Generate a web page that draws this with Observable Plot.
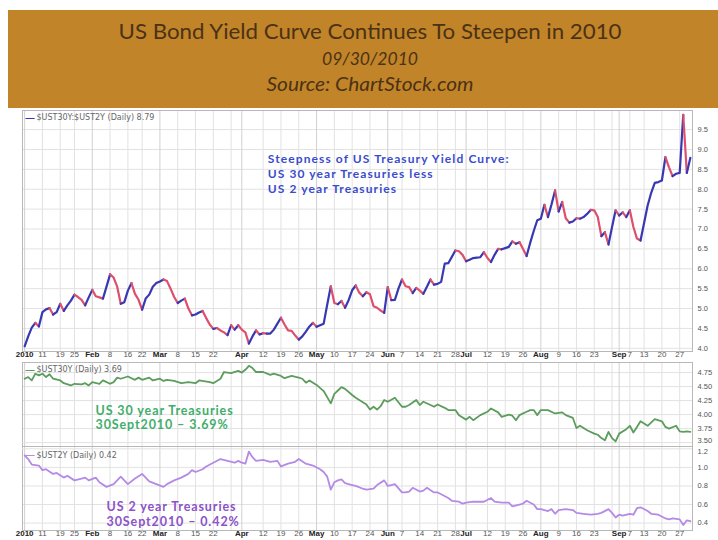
<!DOCTYPE html>
<html><head><meta charset="utf-8">
<script src="https://cdn.jsdelivr.net/npm/d3@7"></script>
<script src="https://cdn.jsdelivr.net/npm/@observablehq/plot@0.6"></script>
<style>
body{margin:0;background:#fff;}
#root{position:relative;width:718px;height:540px;overflow:hidden;background:#fff;}
#root > svg, #root > div{position:absolute;left:0;}
g[fill="#3a4ccc"] text{letter-spacing:1.1px;}
g[fill="#3fae6a"] text, g[fill="#8c52c8"] text{letter-spacing:0.9px;}
</style></head>
<body><div id="root"></div>
<script>
// ---------- text ----------
const titleText = "US Bond Yield Curve Continues To Steepen in 2010";
const dateText = "09/30/2010";
const sourceText = "Source: ChartStock.com";
const spreadLegend = "$UST30Y:$UST2Y (Daily) 8.79";
const long30Legend = "$UST30Y (Daily) 3.69";
const short2Legend = "$UST2Y (Daily) 0.42";
const spreadNote = "Steepness of US Treasury Yield Curve:\nUS 30 year Treasuries less\nUS 2 year Treasuries";
const long30Note = "US 30 year Treasuries\n30Sept2010 \u2013 3.69%";
const short2Note = "US 2 year Treasuries\n30Sept2010 \u2013 0.42%";

// ---------- x axis (trading sessions, 0 = 4 Jan 2010, 187 = 30 Sep 2010) ----------
const monthTickSessions = [0, 19, 38, 61, 82, 102, 124, 145, 167];
const monthTickLabels = ["2010", "Feb", "Mar", "Apr", "May", "Jun", "Jul", "Aug", "Sep"];
const dayTickSessions = [5, 10, 14, 24, 29, 33, 43, 48, 53, 67, 72, 77, 87, 92, 97, 106, 111, 116, 121, 130, 135, 140, 150, 155, 160, 170, 174, 179, 184];
const dayTickLabels = ["11", "19", "25", "8", "16", "22", "8", "15", "22", "12", "19", "26", "10", "17", "24", "7", "14", "21", "28", "12", "19", "26", "9", "16", "23", "7", "13", "20", "27"];
const extraGridSessions = [58, 165];

// ---------- y ticks ----------
const spreadTicks = [4.0, 4.5, 5.0, 5.5, 6.0, 6.5, 7.0, 7.5, 8.0, 8.5, 9.0, 9.5];
const long30Ticks = [3.50, 3.75, 4.00, 4.25, 4.50, 4.75];
const short2Ticks = [0.4, 0.6, 0.8, 1.0, 1.2];

// ---------- series: $UST30Y:$UST2Y ----------
const spreadSession = [0,1,2,3,4,5,6,7,8,9,10,11,12,13,14,15,16,17,18,19,20,21,22,23,24,25,26,27,28,29,30,31,32,33,34,35,36,37,38,39,40,41,42,43,44,45,46,47,48,49,50,51,52,53,54,55,56,57,58,59,60,61,62,63,64,65,66,67,68,69,70,71,72,73,74,75,76,77,78,79,80,81,82,83,84,85,86,87,88,89,90,91,92,93,94,95,96,97,98,99,100,101,102,103,104,105,106,107,108,109,110,111,112,113,114,115,116,117,118,119,120,121,122,123,124,125,126,127,128,129,130,131,132,133,134,135,136,137,138,139,140,141,142,143,144,145,146,147,148,149,150,151,152,153,154,155,156,157,158,159,160,161,162,163,164,165,166,167,168,169,170,171,172,173,174,175,176,177,178,179,180,181,182,183,184,185,186,187];
const spreadValue = [4.05,4.30,4.52,4.64,4.55,4.91,4.98,5.01,4.85,4.91,5.12,4.94,5.08,5.20,5.35,5.29,5.22,5.08,5.28,5.47,5.31,5.28,5.25,5.55,5.86,5.78,5.55,5.12,5.16,5.45,5.64,5.37,5.22,4.97,5.25,5.35,5.55,5.64,5.68,5.73,5.69,5.50,5.29,5.14,5.20,5.25,5.00,4.83,4.85,4.90,4.94,4.76,4.60,4.49,4.51,4.45,4.40,4.33,4.58,4.47,4.58,4.47,4.40,4.12,4.30,4.45,4.35,4.38,4.37,4.37,4.47,4.62,4.77,4.60,4.45,4.44,4.32,4.22,4.30,4.42,4.55,4.64,4.54,4.58,4.62,5.10,5.56,5.14,5.11,5.19,5.02,5.21,5.46,5.58,5.40,5.31,5.41,5.36,5.06,5.02,4.95,4.89,5.54,5.21,5.22,5.50,5.73,5.56,5.54,5.39,5.52,5.45,5.37,5.55,5.73,5.60,5.62,5.67,6.13,6.14,6.30,6.46,6.44,6.35,6.19,6.23,6.27,6.28,6.29,6.42,6.27,6.17,6.35,6.50,6.49,6.52,6.55,6.69,6.63,6.67,6.50,6.32,6.65,6.95,7.22,7.26,7.61,7.30,7.62,7.97,7.44,7.68,7.27,7.16,7.19,7.27,7.26,7.30,7.38,7.48,7.47,7.30,6.82,6.92,6.61,7.05,7.47,7.34,7.42,7.30,7.47,7.05,6.76,6.71,7.15,7.59,7.91,8.16,8.18,8.22,8.81,8.55,8.33,8.39,8.41,9.87,8.41,8.79];

// ---------- series: $UST30Y ----------
const long30Session = [0,1,2,3,4,5,6,7,8,10,11,13,14,16,17,18,19,21,22,24,25,26,27,29,31,32,33,35,36,38,39,40,42,44,46,48,49,52,53,55,56,58,60,61,62,63,64,65,67,69,70,72,73,75,77,78,79,80,82,84,86,87,88,89,90,92,93,94,96,97,98,99,100,101,102,104,106,107,108,110,111,112,114,115,116,118,119,121,122,124,125,126,128,130,131,133,134,136,137,138,139,141,142,143,144,145,147,149,151,152,154,155,156,158,160,161,162,163,164,165,166,167,169,170,171,172,173,174,175,177,179,180,181,183,184,185,186,187];
const long30Value = [4.64,4.67,4.61,4.73,4.70,4.73,4.67,4.72,4.64,4.61,4.56,4.52,4.55,4.54,4.56,4.52,4.58,4.55,4.61,4.55,4.58,4.66,4.64,4.68,4.62,4.66,4.62,4.66,4.61,4.64,4.60,4.62,4.60,4.56,4.58,4.56,4.61,4.58,4.56,4.64,4.76,4.74,4.78,4.75,4.80,4.87,4.83,4.76,4.76,4.71,4.73,4.69,4.65,4.69,4.66,4.64,4.57,4.61,4.53,4.42,4.20,4.37,4.43,4.49,4.46,4.35,4.30,4.26,4.18,4.09,4.14,4.09,4.15,4.26,4.23,4.30,4.14,4.14,4.17,4.26,4.17,4.23,4.17,4.14,4.18,4.12,4.08,4.08,3.99,3.91,3.96,3.90,3.99,4.05,4.11,4.04,3.96,4.00,3.98,3.90,3.99,4.05,4.08,4.08,3.99,4.08,4.08,4.02,4.04,3.99,3.94,3.76,3.80,3.72,3.66,3.64,3.58,3.54,3.69,3.58,3.52,3.66,3.74,3.80,3.68,3.78,3.88,3.84,3.80,3.92,3.88,3.78,3.75,3.80,3.70,3.69,3.70,3.69];

// ---------- series: $UST2Y ----------
const short2Session = [0,1,2,4,5,6,8,9,11,12,14,16,17,18,20,21,23,25,26,27,28,29,31,33,34,35,37,39,40,42,44,46,47,48,50,51,53,55,57,59,60,61,62,63,64,65,67,69,71,72,74,76,77,79,81,83,84,85,86,87,88,89,90,92,93,95,96,98,99,101,102,103,104,106,107,108,109,111,112,113,115,116,117,119,120,122,123,124,126,128,129,131,132,134,136,137,139,140,141,143,144,145,147,148,149,150,152,154,155,157,159,161,162,164,165,166,167,168,170,171,172,173,175,176,178,180,181,182,184,185,186,187];
const short2Value = [1.13,1.09,1.03,1.02,0.97,0.98,0.93,0.94,0.89,0.91,0.86,0.88,0.89,0.86,0.89,0.84,0.79,0.82,0.86,0.90,0.86,0.82,0.88,0.93,0.89,0.85,0.82,0.79,0.82,0.86,0.89,0.93,0.97,0.95,0.98,1.01,1.05,1.09,1.07,1.05,1.07,1.05,1.04,1.17,1.11,1.07,1.08,1.06,1.07,1.01,1.04,1.06,1.09,1.04,1.02,0.98,0.95,0.90,0.76,0.84,0.86,0.87,0.83,0.81,0.80,0.77,0.76,0.77,0.81,0.86,0.80,0.81,0.82,0.73,0.73,0.74,0.78,0.74,0.75,0.78,0.73,0.73,0.71,0.67,0.64,0.63,0.61,0.62,0.63,0.63,0.63,0.67,0.63,0.62,0.62,0.58,0.60,0.61,0.64,0.60,0.55,0.55,0.53,0.55,0.50,0.54,0.55,0.54,0.51,0.50,0.49,0.50,0.51,0.55,0.51,0.46,0.49,0.48,0.50,0.49,0.56,0.57,0.53,0.50,0.49,0.45,0.44,0.45,0.44,0.38,0.43,0.42];

// ---------- build ----------
const root = document.getElementById("root");
const UI = "'Liberation Sans', Arial, sans-serif";
const NOTE = "Lato, 'Open Sans', sans-serif";
const BLUE = "#3838b2", RED = "#dc506e", GREEN = "#5c9c5c", PURPLE = "#b58ae6";
const GRID = "#e2e2e2", MGRID = "#d0d0d0", FRAME = "#b8b8b8";

// header
const NS = "http://www.w3.org/2000/svg";
const head = document.createElementNS(NS, "svg");
head.setAttribute("width", 718); head.setAttribute("height", 108);
head.style.top = "0px";
head.innerHTML = `<rect x="8" y="10" width="710" height="98" fill="#c28428"/>`;
function headText(str, y, size, italic, len) {
  const t = document.createElementNS(NS, "text");
  t.setAttribute("x", 370); t.setAttribute("y", y);
  t.setAttribute("text-anchor", "middle");
  t.setAttribute("font-family", "Lato, 'Open Sans', sans-serif");
  t.setAttribute("font-size", size);
  if (italic) t.setAttribute("font-style", "italic");
  t.setAttribute("fill", "#4a3216");
  t.setAttribute("textLength", len);
  t.setAttribute("lengthAdjust", "spacingAndGlyphs");
  t.textContent = str;
  head.appendChild(t);
}
headText(titleText, 39, 22, false, 503);
headText(dateText, 65, 18, true, 96);
headText(sourceText, 91, 19, true, 207);
root.appendChild(head);

const monthTicks = monthTickSessions.map((s, i) => ({s, label: monthTickLabels[i]}));
const dayTicks = dayTickSessions.map((s, i) => ({s, label: dayTickLabels[i]}));
const gridSessions = [...dayTickSessions, ...extraGridSessions];

const spread = spreadSession.map((s, i) => ({
  s, v: spreadValue[i],
  dir: (i < spreadValue.length - 1 && spreadValue[i + 1] < spreadValue[i]) ? "down" : "up"
}));
const long30 = long30Session.map((s, i) => ({s, v: long30Value[i]}));
const short2 = short2Session.map((s, i) => ({s, v: short2Value[i]}));

function xLabels() {
  return [
    Plot.text(dayTicks, {x: "s", text: "label", frameAnchor: "bottom", dy: 5.5, fontSize: 8, fill: "#555", fontFamily: UI}),
    Plot.text(monthTicks, {x: "s", text: "label", frameAnchor: "bottom", dy: 5.5, fontSize: 8, fontWeight: "bold", fill: "#222", fontFamily: UI})
  ];
}
function common(ticks, fmt) {
  return [
    Plot.ruleY(ticks, {stroke: GRID}),
    Plot.ruleX(gridSessions, {stroke: GRID}),
    Plot.ruleX(monthTickSessions, {stroke: MGRID}),
    Plot.frame({stroke: FRAME}),
    Plot.text(ticks, {y: d => d, text: d => fmt(d), frameAnchor: "right", textAnchor: "start", dx: 5, fontSize: 7.5, fill: "#555", fontFamily: UI}),
  ];
}
function legend(label, color, dy) {
  return [
    Plot.text([label], {text: d => d, frameAnchor: "top-left", textAnchor: "start", dx: 14, dy, fontSize: 8, fill: "#666", fontFamily: "'DejaVu Sans', sans-serif"}),
    Plot.text(["\u2014"], {text: d => d, frameAnchor: "top-left", textAnchor: "start", dx: 3, dy, fontSize: 9, fontWeight: "bold", fill: color, fontFamily: UI})
  ];
}
function place(svg, top) {
  svg.style.top = top + "px";
  root.appendChild(svg);
}
const baseStyle = {fontFamily: UI, fontSize: "8px", background: "transparent", overflow: "visible"};
const X = {domain: [-0.6, 187.6], axis: null};

// panel 1: ratio
place(Plot.plot({
  width: 718, height: 253, marginTop: 2, marginBottom: 10, marginLeft: 22, marginRight: 26,
  x: X, y: {domain: [3.92, 9.98], axis: null},
  color: {domain: ["up", "down"], range: [BLUE, RED]},
  style: baseStyle,
  marks: [
    ...common(spreadTicks, d3.format(".1f")),
    Plot.line(spread, {x: "s", y: "v", z: null, stroke: "dir", strokeWidth: 2.2, strokeLinejoin: "round", strokeLinecap: "round"}),
    ...legend(spreadLegend, BLUE, 4),
    Plot.text([spreadNote], {x: () => 68.3, y: () => 8.93, text: d => d, textAnchor: "start", lineAnchor: "top", lineHeight: 1.25, fontFamily: NOTE, fontWeight: "bold", fontSize: 12, fill: "#3a4ccc"}),
    ...xLabels()
  ]
}), 108);

// panel 2: 30 year
place(Plot.plot({
  width: 718, height: 85, marginTop: 1, marginBottom: 0, marginLeft: 22, marginRight: 26,
  x: X, y: {domain: [3.43, 4.93], axis: null},
  style: baseStyle,
  marks: [
    ...common(long30Ticks.filter(d => d !== 3.5), d3.format(".2f")),
    Plot.ruleY([3.5], {stroke: GRID}),
    Plot.text([3.5], {y: d => d, text: d => d3.format(".2f")(d), frameAnchor: "right", textAnchor: "start", dx: 5, dy: -2, fontSize: 7.5, fill: "#555", fontFamily: UI}),
    Plot.line(long30, {x: "s", y: "v", stroke: GREEN, strokeWidth: 1.8, strokeLinejoin: "round"}),
    ...legend(long30Legend, GREEN, 4),
    Plot.text([long30Note], {x: () => 19.9, y: () => 4.18, text: d => d, textAnchor: "start", lineAnchor: "top", lineHeight: 1.15, fontFamily: NOTE, fontWeight: "bold", fontSize: 12.5, fill: "#3fae6a"})
  ]
}), 361);

// panel 3: 2 year
place(Plot.plot({
  width: 718, height: 94, marginTop: 0, marginBottom: 10, marginLeft: 22, marginRight: 26,
  x: X, y: {domain: [0.32, 1.225], axis: null},
  style: baseStyle,
  marks: [
    ...common(short2Ticks.filter(d => d !== 1.2), d3.format(".1f")),
    Plot.ruleY([1.2], {stroke: GRID}),
    Plot.text([1.2], {y: d => d, text: d => d3.format(".1f")(d), frameAnchor: "right", textAnchor: "start", dx: 5, dy: 2.5, fontSize: 7.5, fill: "#555", fontFamily: UI}),
    Plot.line(short2, {x: "s", y: "v", stroke: PURPLE, strokeWidth: 1.8, strokeLinejoin: "round"}),
    ...legend(short2Legend, PURPLE, 5.5),
    Plot.text([short2Note], {x: () => 23, y: () => 0.637, text: d => d, textAnchor: "start", lineAnchor: "top", lineHeight: 1.15, fontFamily: NOTE, fontWeight: "bold", fontSize: 12.5, fill: "#8c52c8"}),
    ...xLabels()
  ]
}), 446);
</script>
</body></html>
